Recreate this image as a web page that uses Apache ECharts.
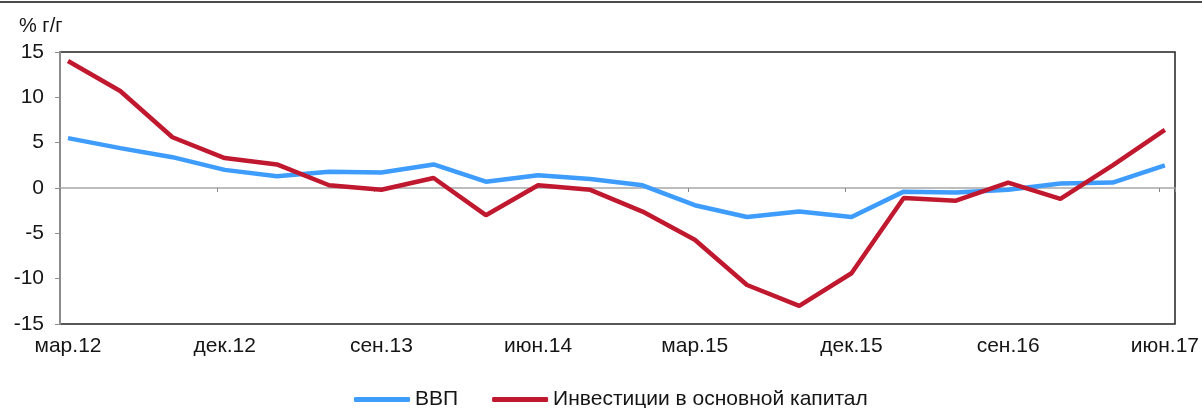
<!DOCTYPE html>
<html>
<head>
<meta charset="utf-8">
<script src="https://cdn.jsdelivr.net/npm/echarts@6/dist/echarts.min.js"></script>
<style>
html,body{margin:0;padding:0;background:#fff;}
#c{width:1202px;height:408px;}
</style>
</head>
<body>
<div id="c"></div>
<script>
var categories = ['мар.12','июн.12','сен.12','дек.12','мар.13','июн.13','сен.13','дек.13',
  'мар.14','июн.14','сен.14','дек.14','мар.15','июн.15','сен.15','дек.15',
  'мар.16','июн.16','сен.16','дек.16','мар.17','июн.17'];
var gdp = [5.5, 4.4, 3.4, 2.0, 1.3, 1.8, 1.7, 2.6, 0.7, 1.4, 1.0, 0.3, -1.9, -3.2, -2.6, -3.2, -0.4, -0.5, -0.2, 0.5, 0.6, 2.5];
var invest = [14.0, 10.7, 5.6, 3.3, 2.6, 0.3, -0.2, 1.1, -3.0, 0.3, -0.2, -2.6, -5.7, -10.7, -13.0, -9.4, -1.1, -1.4, 0.6, -1.2, 2.5, 6.4];
var yTicks = {min: -15, max: 15, step: 5};
var seriesNames = ['ВВП', 'Инвестиции в основной капитал'];
var unitLabel = '% г/г';

var FONT = 'Liberation Sans, Arial, sans-serif';
var TXT = '#151515';
var chart = echarts.init(document.getElementById('c'), null, {renderer: 'canvas'});
var option = {
  animation: false,
  backgroundColor: '#fff',
  title: {
    text: unitLabel, left: 14, top: 11,
    textStyle: {fontFamily: FONT, fontSize: 20, fontWeight: 'normal', color: TXT}
  },
  graphic: [{
    type: 'line', shape: {x1: 0, y1: 2, x2: 1202, y2: 2},
    style: {stroke: '#4a4a4a', lineWidth: 2}
  }],
  legend: {
    left: 349, top: 384,
    itemWidth: 56, itemHeight: 5, itemGap: 34,
    icon: 'roundRect',
    textStyle: {fontFamily: FONT, fontSize: 21, color: TXT},
    data: seriesNames
  },
  grid: [
    {left: 60, right: 27, top: 52, bottom: 84, show: true, borderColor: '#222', borderWidth: 1.5, backgroundColor: '#fff'},
    {left: 68, right: 35, top: 52, bottom: 84}
  ],
  xAxis: [
    {
      gridIndex: 0, type: 'value', min: -0.153, max: 21.153, interval: 3,
      axisLine: {show: true, onZero: true, lineStyle: {color: '#a8a8a8', width: 1.5}},
      axisTick: {show: true, length: 4, lineStyle: {color: '#888'}},
      axisLabel: {show: false}, splitLine: {show: false}
    },
    {
      gridIndex: 1, type: 'category', data: categories, boundaryGap: false,
      axisLine: {show: false, onZero: false}, axisTick: {show: false},
      axisLabel: {interval: 2, margin: 12, fontFamily: FONT, fontSize: 21, color: TXT},
      splitLine: {show: false}
    }
  ],
  yAxis: [
    {
      gridIndex: 0, type: 'value', min: yTicks.min, max: yTicks.max, interval: yTicks.step,
      axisLine: {show: true, onZero: false, lineStyle: {color: '#8c8c8c', width: 2}},
      axisTick: {show: true, length: 5, lineStyle: {color: '#8c8c8c'}},
      axisLabel: {margin: 16, fontFamily: FONT, fontSize: 21, color: TXT},
      splitLine: {show: false}
    },
    {
      gridIndex: 1, type: 'value', min: yTicks.min, max: yTicks.max, interval: yTicks.step,
      show: false, splitLine: {show: false}
    }
  ],
  series: [
    {
      name: seriesNames[0], type: 'line', xAxisIndex: 1, yAxisIndex: 1,
      data: gdp, symbol: 'none', smooth: false,
      lineStyle: {color: '#3d9cfc', width: 4.5}, itemStyle: {color: '#3d9cfc'}
    },
    {
      name: seriesNames[1], type: 'line', xAxisIndex: 1, yAxisIndex: 1,
      data: invest, symbol: 'none', smooth: false,
      lineStyle: {color: '#c0182e', width: 4.5}, itemStyle: {color: '#c0182e'}
    }
  ]
};
chart.setOption(option);
</script>
</body>
</html>
